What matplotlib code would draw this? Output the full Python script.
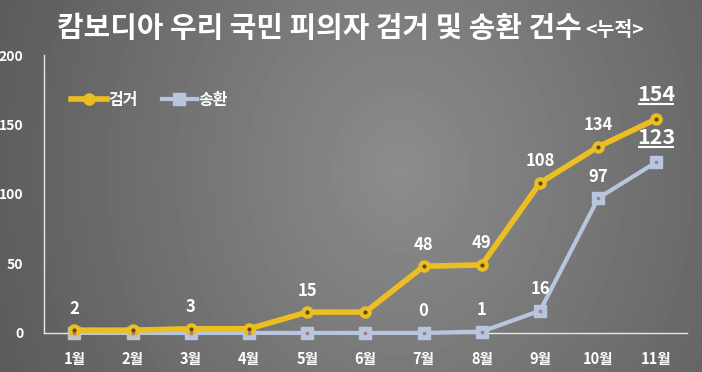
import numpy as np
import matplotlib
matplotlib.use("Agg")
import matplotlib.pyplot as plt
from matplotlib.transforms import offset_copy

plt.rcParams['font.family'] = ['Noto Sans CJK KR', 'DejaVu Sans']

months = ['1월', '2월', '3월', '4월', '5월', '6월', '7월', '8월', '9월', '10월', '11월']
arrests = [2, 2, 3, 3, 15, 15, 48, 49, 108, 134, 154]
repatriations = [0, 0, 0, 0, 0, 0, 0, 1, 16, 97, 123]
arrest_label_idx = [0, 2, 4, 6, 7, 8, 9]
repat_label_idx = [6, 7, 8, 9]
yticks = [0, 50, 100, 150, 200]

title = '캄보디아 우리 국민 피의자 검거 및 송환 건수'
subtitle = '<누적>'

gold = '#EDBE22'
blue = '#B7C6DE'

fig = plt.figure(figsize=(7.02, 3.72), dpi=100)

# radial gradient background
bg = fig.add_axes([0, 0, 1, 1], zorder=0)
yy, xx = np.mgrid[0:372, 0:702]
cx, cy = 400, 170
r = np.sqrt(((xx - cx) / 400.0) ** 2 + ((yy - cy) / 480.0) ** 2)
val = np.clip(0.55 - 0.18 * r, 0.3, 0.6)
bg.imshow(val, cmap='gray', vmin=0, vmax=1, aspect='auto', extent=[0, 1, 0, 1])
bg.axis('off')

ax = fig.add_axes([0.063, 0.105, 0.916, 0.747], zorder=1)
ax.patch.set_alpha(0)
x = np.arange(len(months))

line_r, = ax.plot(x, repatriations, color=blue, lw=3, marker='s', ms=8, mfc=blue, mec=blue,
                  zorder=2, clip_on=False)
ax.plot(x, repatriations, ls='none', marker='s', ms=2, color='#a08080', zorder=4,
        clip_on=False)
line_a, = ax.plot(x, arrests, color=gold, lw=4, marker='o', ms=8, mfc=gold, mec=gold,
                  zorder=3, clip_on=False)
ax.plot(x, arrests, ls='none', marker='o', ms=2, color='#5a4a10', zorder=4, clip_on=False)

for i in arrest_label_idx:
    ax.annotate(str(arrests[i]), (x[i], arrests[i]), xytext=(0, 9), textcoords='offset points',
                ha='center', va='bottom', color='white', fontsize=12, fontweight='bold')
for i in repat_label_idx:
    ax.annotate(str(repatriations[i]), (x[i], repatriations[i]), xytext=(0, 9),
                textcoords='offset points', ha='center', va='bottom', color='white',
                fontsize=12, fontweight='bold')

i = len(months) - 1
for v in (arrests[i], repatriations[i]):
    ax.annotate(str(v), (x[i], v), xytext=(0, 13), textcoords='offset points',
                ha='center', va='baseline', color='white', fontsize=15.5, fontweight='bold')
    tr = offset_copy(ax.transData, fig=fig, x=0, y=11, units='points')
    ax.plot([x[i] - 0.31, x[i] + 0.31], [v, v], color='white', lw=1.5, transform=tr,
            solid_capstyle='butt', zorder=5, clip_on=False)

ax.set_xlim(-0.52, 10.53)
ax.set_ylim(0, 200)
ax.set_yticks(yticks)
ax.set_xticks(x)
ax.set_xticklabels(months)
for s in ['top', 'right']:
    ax.spines[s].set_visible(False)
for s in ['left', 'bottom']:
    ax.spines[s].set_color('#e8e8e8')
    ax.spines[s].set_linewidth(1)
    ax.spines[s].set_zorder(1)
ax.tick_params(axis='both', length=0, colors='white', labelsize=10)
ax.tick_params(axis='x', pad=13, labelsize=10.5)
ax.tick_params(axis='y', pad=15)
for lab in ax.get_xticklabels() + ax.get_yticklabels():
    lab.set_fontweight('bold')

leg = ax.legend([line_a, line_r], ['검거', '송환'], loc='upper left',
                bbox_to_anchor=(0.02, 0.92), ncol=2, frameon=False, fontsize=11.5,
                handlelength=2.2, columnspacing=1.5, handletextpad=0.1)
for t in leg.get_texts():
    t.set_color('white')
    t.set_fontweight('bold')

fig.text(0.828, 0.925, title, ha='right', va='center', color='white', fontsize=20.8,
         fontweight='bold')
fig.text(0.834, 0.917, subtitle, ha='left', va='center', color='white', fontsize=14,
         fontweight='bold')

fig.savefig('out.png', dpi=100)
